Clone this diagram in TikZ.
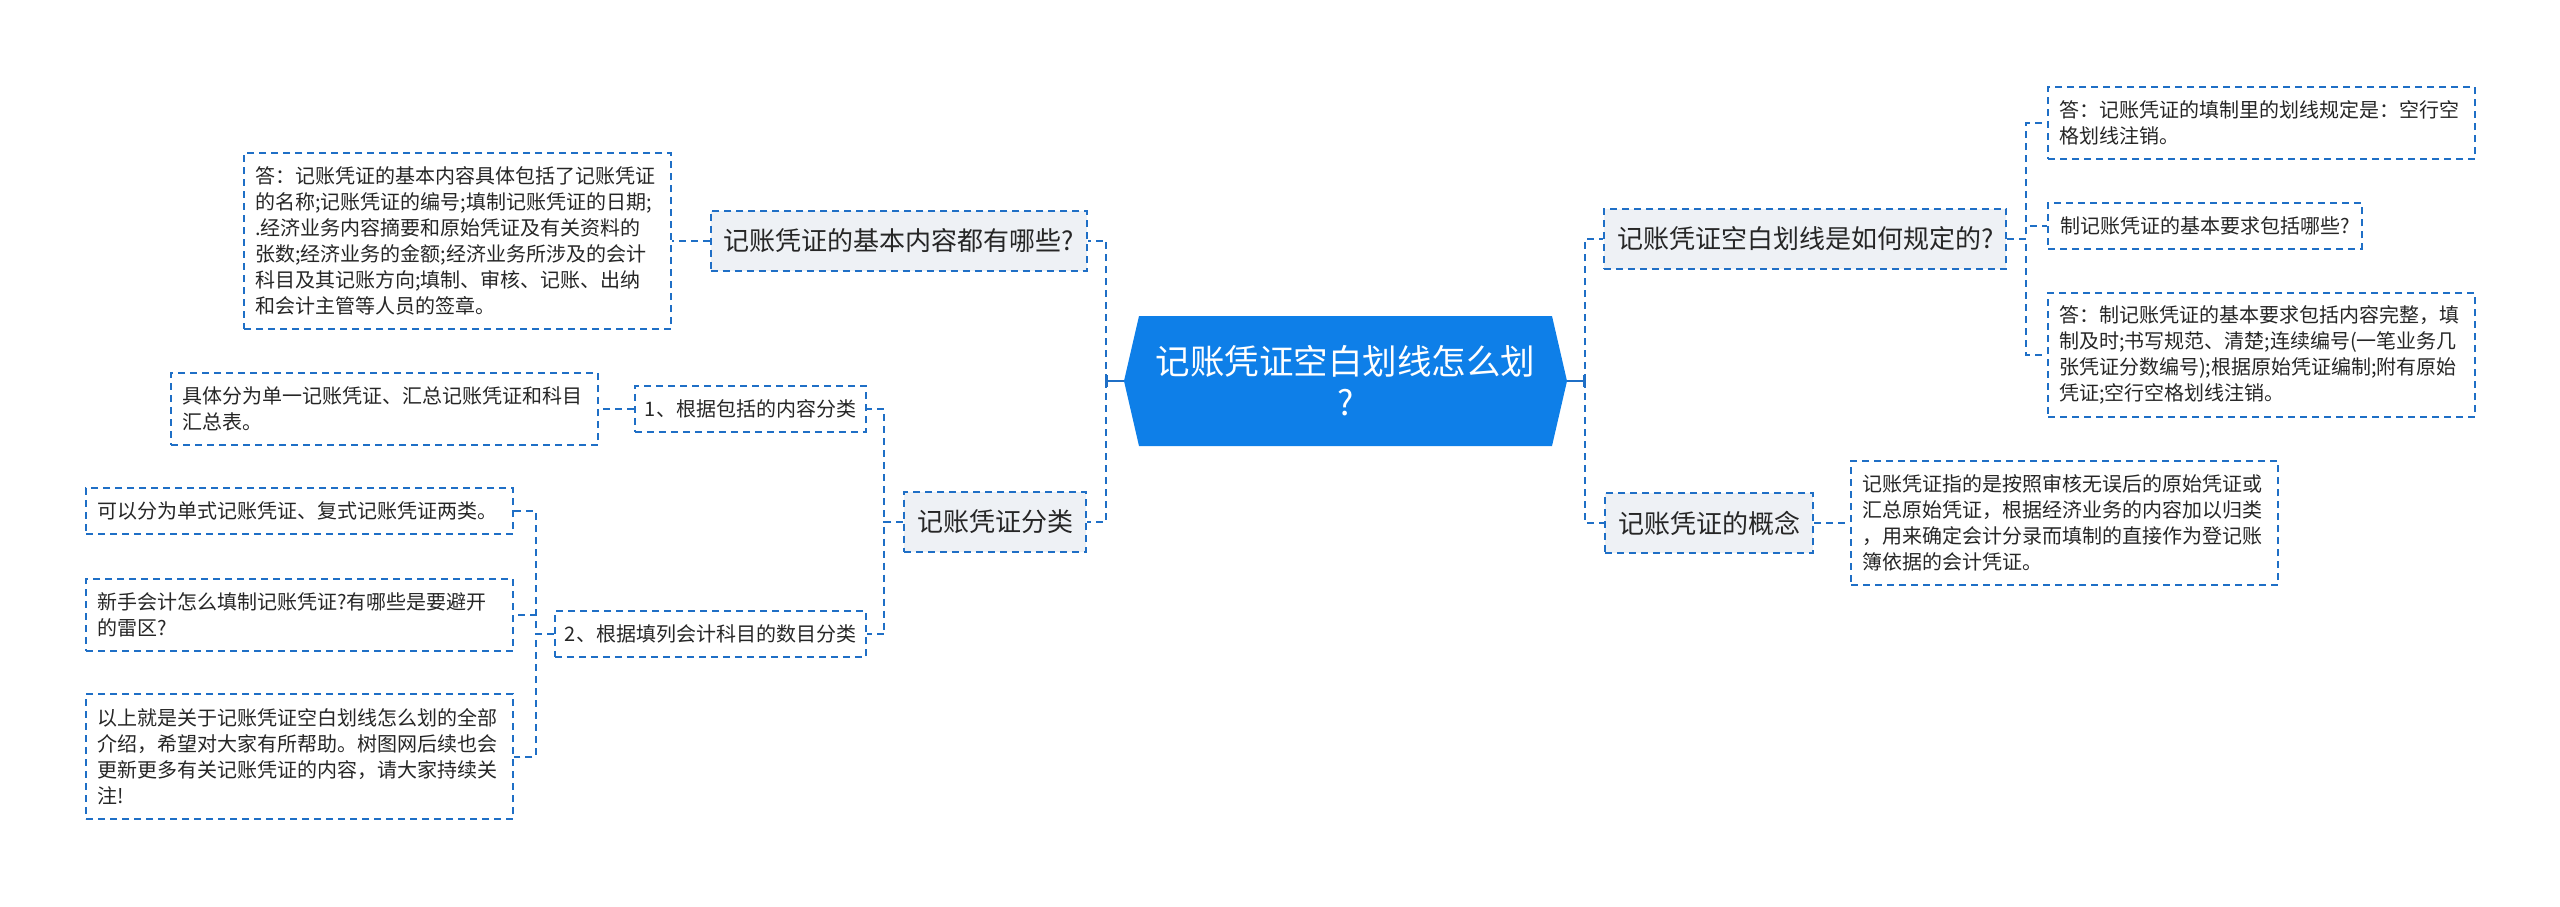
\documentclass[tikz,border=0pt]{standalone}
\usepackage{fontspec}
\setmainfont{Noto Sans CJK SC}
\usetikzlibrary{shapes.symbols,arrows.meta}
\definecolor{linkblue}{HTML}{1F6FC6}
\definecolor{rootblue}{HTML}{0E7FE8}
\definecolor{topicgray}{HTML}{EEF1F5}
\definecolor{inkgray}{HTML}{262626}

\begin{document}
\begin{tikzpicture}[x=1pt,y=-1pt,
  link/.style={draw=linkblue,line width=2pt,dash pattern=on 7pt off 5pt},
  stem/.style={draw=linkblue,line width=2pt,-{Bar[width=12pt]}},
  box/.style={link,rectangle,text=inkgray,inner sep=0pt},
  topic/.style={box,fill=topicgray,font=\fontsize{26}{32}\selectfont,inner xsep=13pt,minimum height=60pt},
  sub/.style={box,font=\fontsize{20}{26}\selectfont,inner xsep=10pt,minimum height=46pt},
  leaf/.style={box,font=\fontsize{20}{26}\selectfont,text width=405pt,align=left,inner xsep=11pt},
  rootnode/.style={signal,signal to=east and west,signal pointer angle=154,fill=rootblue,text=white,
    font=\fontsize{34.5}{41}\selectfont,align=center,minimum width=443pt,minimum height=130pt}]
\useasboundingbox (0,0) rectangle (2560,906);

\node[rootnode] (root) at (1345.5,381) {记账凭证空白划线怎么划\\?};

\node[topic,anchor=east] (basic) at (1088,240.5) {记账凭证的基本内容都有哪些?};
\node[leaf,anchor=east,minimum height=176pt] (basicans) at (672,241) {答：记账凭证的基本内容具体包括了记账凭证\\的名称;记账凭证的编号;填制记账凭证的日期;\\.经济业务内容摘要和原始凭证及有关资料的\\张数;经济业务的金额;经济业务所涉及的会计\\科目及其记账方向;填制、审核、记账、出纳\\和会计主管等人员的签章。};

\node[topic,anchor=east] (kinds) at (1087,521.5) {记账凭证分类};
\node[sub,anchor=east] (bycontent) at (867,409) {1、根据包括的内容分类};
\node[sub,anchor=east] (bycount) at (867,634) {2、根据填列会计科目的数目分类};
\node[leaf,anchor=east,minimum height=72pt] (contentans) at (599,409) {具体分为单一记账凭证、汇总记账凭证和科目\\汇总表。};
\node[leaf,anchor=east,minimum height=46pt] (countans) at (514,511) {可以分为单式记账凭证、复式记账凭证两类。};
\node[leaf,anchor=east,minimum height=72pt] (novice) at (514,615) {新手会计怎么填制记账凭证?有哪些是要避开\\的雷区?};
\node[leaf,anchor=east,minimum height=125pt] (closing) at (514,756.5) {以上就是关于记账凭证空白划线怎么划的全部\\介绍，希望对大家有所帮助。树图网后续也会\\更新更多有关记账凭证的内容，请大家持续关\\注!};

\node[topic,anchor=west] (rule) at (1603,239) {记账凭证空白划线是如何规定的?};
\node[leaf,anchor=west,minimum height=72pt] (ruleans) at (2047,123) {答：记账凭证的填制里的划线规定是：空行空\\格划线注销。};
\node[sub,anchor=west,inner xsep=12pt] (require) at (2047,226) {制记账凭证的基本要求包括哪些?};
\node[leaf,anchor=west,minimum height=124pt] (requireans) at (2047,355) {答：制记账凭证的基本要求包括内容完整，填\\制及时;书写规范、清楚;连续编号(一笔业务几\\张凭证分数编号);根据原始凭证编制;附有原始\\凭证;空行空格划线注销。};

\node[topic,anchor=west] (concept) at (1604,523) {记账凭证的概念};
\node[leaf,anchor=west,minimum height=124pt] (conceptans) at (1850,523) {记账凭证指的是按照审核无误后的原始凭证或\\汇总原始凭证，根据经济业务的内容加以归类\\，用来确定会计分录而填制的直接作为登记账\\簿依据的会计凭证。};

\coordinate (lspine) at (1106,381);
\coordinate (rspine) at (1585,381);
\draw[stem] (root.west) -- (lspine);
\draw[stem] (root.east) -- (rspine);
\draw[link] (lspine) |- (basic.east);
\draw[link] (lspine) |- (kinds.east);
\draw[link] (rspine) |- (rule.west);
\draw[link] (rspine) |- (concept.west);

\draw[link] (basic.west) -- (basic.west -| basicans.east);
\draw[link] (kinds.west) -- ++(-19,0) |- (bycontent.east);
\draw[link] (kinds.west) -- ++(-19,0) |- (bycount.east);
\draw[link] (bycontent.west) -- (bycontent.west -| contentans.east);
\draw[link] (bycount.west) -- ++(-18,0) |- (countans.east);
\draw[link] (bycount.west) -- ++(-18,0) |- (novice.east);
\draw[link] (bycount.west) -- ++(-18,0) |- (closing.east);

\draw[link] (rule.east) -- ++(19,0) |- (ruleans.west);
\draw[link] (rule.east) -- ++(19,0) |- (require.west);
\draw[link] (rule.east) -- ++(19,0) |- (requireans.west);
\draw[link] (concept.east) -- (concept.east -| conceptans.west);
\end{tikzpicture}
\end{document}
